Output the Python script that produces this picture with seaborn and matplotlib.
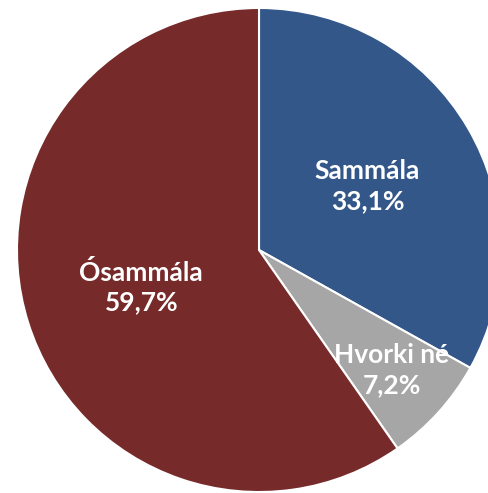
import numpy as np
import matplotlib
matplotlib.use("Agg")
import matplotlib.pyplot as plt
import seaborn as sns

# Data
labels = ["Sammála", "Hvorki né", "Ósammála"]
values = [33.1, 7.2, 59.7]
pct_text = ["33,1%", "7,2%", "59,7%"]
colors = ["#34578A", "#A6A6A6", "#772A2A"]
label_dist = [0.52, 0.74, 0.51]

sns.set_theme(style="white")
plt.rcParams["font.family"] = ["Lato", "DejaVu Sans"]

fig = plt.figure(figsize=(4.88, 4.93), dpi=100)
ax = fig.add_axes([0, 0, 1, 1])

wedges, _ = ax.pie(values, colors=colors, startangle=90, counterclock=False,
                   radius=1, wedgeprops=dict(edgecolor="white", linewidth=1.5))

# put labels along each wedge's middle angle
for w, name, pct, d in zip(wedges, labels, pct_text, label_dist):
    mid = np.deg2rad((w.theta1 + w.theta2) / 2)
    ax.text(d * np.cos(mid), d * np.sin(mid), f"{name}\n{pct}",
            ha="center", va="center", color="white", fontsize=19,
            fontweight="bold", linespacing=1.3)

# pie is slightly cropped on the right like the original
ax.set_xlim(-1.070, 0.946)
ax.set_ylim(-1.004, 1.033)
ax.set_aspect("equal")
ax.axis("off")

fig.savefig("out.png", dpi=100)
